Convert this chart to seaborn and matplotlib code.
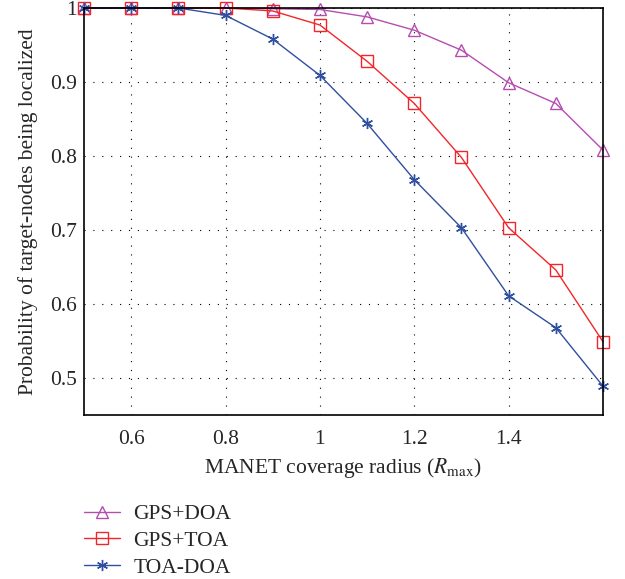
import matplotlib
matplotlib.use("Agg")
import matplotlib.pyplot as plt
import seaborn as sns
import pandas as pd

radius = [0.5, 0.6, 0.7, 0.8, 0.9, 1.0, 1.1, 1.2, 1.3, 1.4, 1.5, 1.6]
gps_doa = [1.0, 1.0, 1.0, 1.0, 0.999, 0.998, 0.988, 0.970, 0.943, 0.899, 0.871, 0.808]
gps_toa = [1.0, 1.0, 1.0, 1.0, 0.996, 0.977, 0.928, 0.871, 0.798, 0.703, 0.646, 0.549]
toa_doa = [1.0, 1.0, 1.0, 0.990, 0.958, 0.909, 0.844, 0.768, 0.703, 0.611, 0.568, 0.489]

names = ["GPS+DOA", "GPS+TOA", "TOA-DOA"]
colors = ["#b54db1", "#f2262a", "#2f4f9f"]
markers = ["^", "s", (6, 2, 0)]

xticks = [0.6, 0.8, 1.0, 1.2, 1.4]
xticklabels = ["0.6", "0.8", "1", "1.2", "1.4"]
yticks = [0.5, 0.6, 0.7, 0.8, 0.9, 1.0]
yticklabels = ["0.5", "0.6", "0.7", "0.8", "0.9", "1"]

sns.set_style("white")
plt.rcParams["font.family"] = ["Liberation Serif", "DejaVu Serif"]
plt.rcParams["mathtext.fontset"] = "stix"
fs = 15.5

df = pd.DataFrame({"radius": radius, "GPS+DOA": gps_doa, "GPS+TOA": gps_toa, "TOA-DOA": toa_doa})

fig = plt.figure(figsize=(6.25, 5.79), dpi=100)
ax = fig.add_axes([84/625, 1-415/579, (603-84)/625, (415-8)/579])

for name, c, m in zip(names, colors, markers):
    sns.lineplot(data=df, x="radius", y=name, ax=ax, color=c, marker=m,
                 markersize=8, markerfacecolor="none", markeredgecolor=c,
                 markeredgewidth=1.0, linewidth=1.0, label=name, legend=False,
                 clip_on=False)

ax.set_xlim(0.5, 1.6)
ax.set_ylim(0.45, 1.0)
ax.set_xticks(xticks)
ax.set_xticklabels(xticklabels)
ax.set_yticks(yticks)
ax.set_yticklabels(yticklabels)
ax.tick_params(length=0, labelsize=fs)
ax.tick_params(axis="x", pad=11)
ax.tick_params(axis="y", pad=5)
ax.grid(True, color="black", linestyle=(0, (1, 7)), linewidth=0.8)
for s in ax.spines.values():
    s.set_visible(True)
    s.set_color("black")
    s.set_linewidth(1.2)

ax.set_xlabel(r"MANET coverage radius ($R_{\rm max}$)", fontsize=fs, labelpad=5)
ax.set_ylabel("Probability of target-nodes being localized", fontsize=fs, labelpad=9)

handles, labels = ax.get_legend_handles_labels()
fig.legend(handles, labels, loc="upper left", bbox_to_anchor=(84/625, 1-504/579),
           frameon=False, fontsize=fs, borderpad=0, borderaxespad=0,
           handlelength=1.65, handletextpad=0.65, labelspacing=0.32)

fig.savefig("out.png", dpi=100)
